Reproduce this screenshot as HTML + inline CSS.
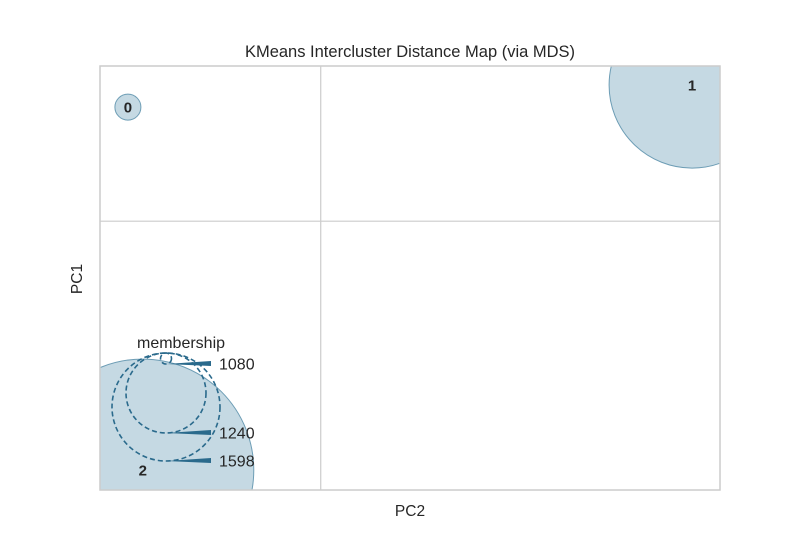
<!DOCTYPE html>
<html><head><meta charset="utf-8"><style>
html,body{margin:0;padding:0;background:#fff;overflow:hidden;width:800px;height:550px}
svg{display:block;font-family:"Liberation Sans","DejaVu Sans",sans-serif}
</style></head><body>
<svg id="chart" width="800" height="550">
<rect width="800" height="550" fill="#fff"/>
<text x="410" y="57" text-anchor="middle" font-size="16.5" fill="#262626">KMeans Intercluster Distance Map (via MDS)</text>
<text x="410" y="516" text-anchor="middle" font-size="15.5" fill="#262626">PC2</text>
<text x="82" y="279" text-anchor="middle" font-size="15.5" fill="#262626" transform="rotate(-90 82 279)">PC1</text>
<defs><clipPath id="pc"><rect x="100" y="66" width="620" height="424"/></clipPath></defs>
<g id="grid"></g>
<g id="marks" clip-path="url(#pc)"></g>
<g id="legend"></g>
<rect x="100" y="66" width="620" height="424" fill="none" stroke="#cccccc" stroke-width="1.5"/>
</svg>
<script>
const clusterLabels = ["0","1","2"];
const clusterX = [4.5, 95.5, 6.9];
const clusterY = [90.3, 95.5, 4.7];
const clusterRadius = [13, 83, 111];
const legendSizes = [1080, 1240, 1598];
const legendRadius = [5.5, 40, 54];
const gridX = [35.6];
const gridY = [63.4];

const X0=100,X1=720,Y0=490,Y1=66;
const sx=v=>X0+(v/100)*(X1-X0);
const sy=v=>Y0-(v/100)*(Y0-Y1);
const NS="http://www.w3.org/2000/svg";
function mk(tag,attrs,parent){const e=document.createElementNS(NS,tag);for(const k in attrs)e.setAttribute(k,attrs[k]);parent.appendChild(e);return e;}
const grid=document.getElementById('grid'),marks=document.getElementById('marks'),legend=document.getElementById('legend');
gridX.forEach(v=>{const l=mk('line',{x1:sx(v),x2:sx(v),y1:Y1,y2:Y0,stroke:'#cccccc','stroke-width':1.2},grid);

});
gridY.forEach(v=>{const l=mk('line',{x1:X0,x2:X1,y1:sy(v),y2:sy(v),stroke:'#cccccc','stroke-width':1.2},grid);

});
clusterLabels.forEach((lab,i)=>{
const c=mk('circle',{cx:sx(clusterX[i]),cy:sy(clusterY[i]),r:clusterRadius[i],fill:'#c5d9e3',stroke:'#6d9db5','stroke-width':1},marks);


const t=mk('text',{x:sx(clusterX[i]),y:sy(clusterY[i])+5.5,'text-anchor':'middle','font-size':15,'font-weight':'bold',fill:'#262626'},marks);
t.textContent=lab;


});
const lcx=166,lbot=[364,433,461];
const lt=mk('text',{x:181,y:348,'text-anchor':'middle','font-size':16,fill:'#262626'},legend);
lt.textContent='membership';


legendSizes.forEach((s,i)=>{
const r=legendRadius[i],by=lbot[i];
const c=mk('circle',{cx:lcx,cy:by-r,r:r,fill:'none',stroke:'#2a6a8c','stroke-width':1.6,'stroke-dasharray':'5,3'},legend);


const w=mk('polygon',{points:`${lcx},${by} 211,${by-3} 211,${by+2}`,fill:'#2a6a8c'},legend);


const t=mk('text',{x:219,y:by+5.5,'font-size':16,fill:'#262626'},legend);
t.textContent=s;


});
</script>
</body></html>
